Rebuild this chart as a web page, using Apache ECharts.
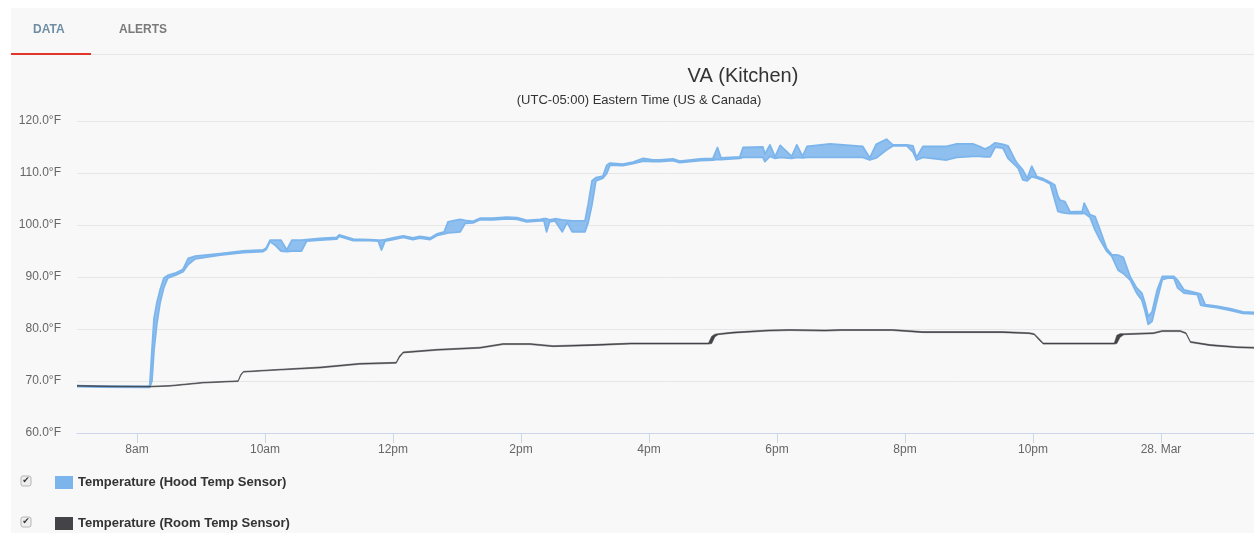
<!DOCTYPE html>
<html>
<head>
<meta charset="utf-8">
<script src="https://cdn.jsdelivr.net/npm/echarts@6/dist/echarts.min.js"></script>
<style>
html,body{margin:0;padding:0;background:#fff;}
#chart{width:1254px;height:533px;}
</style>
</head>
<body>
<div id="chart"></div>
<script>
// hours since midnight, 27 Mar (24 = 28. Mar 00:00)
const hoodTimes = [7.06,7.42,8.17,8.2,8.234,8.266,8.31,8.36,8.42,8.48,
  8.61,8.72,8.8,8.91,9.3,9.66,9.97,10.02,10.08,10.17,
  10.25,10.34,10.42,10.57,10.65,10.86,11.12,11.16,11.38,11.64,
  11.77,11.82,11.875,12.0,12.16,12.31,12.42,12.58,12.69,12.8,
  12.86,12.97,13.05,13.125,13.25,13.36,13.56,13.78,13.94,14.09,
  14.3,14.36,14.4,14.445,14.53,14.645,14.72,14.8,15.0,15.05,
  15.11,15.17,15.28,15.34,15.39,15.59,15.75,15.91,16.06,16.17,
  16.375,16.48,16.8,17.0,17.07,17.125,17.42,17.47,17.78,17.81,
  17.89,17.97,18.05,18.23,18.31,18.4,18.47,18.83,19.34,19.45,
  19.55,19.71,19.81,20.03,20.125,20.18,20.28,20.65,20.81,21.06,
  21.17,21.25,21.33,21.41,21.53,21.61,21.72,21.77,21.84,21.91,
  21.98,22.06,22.16,22.27,22.34,22.39,22.42,22.5,22.58,22.77,
  22.8,22.89,22.97,23.05,23.15,23.23,23.33,23.41,23.52,23.62,
  23.7,23.75,23.8,23.86,23.94,24.02,24.1,24.2,24.26,24.36,
  24.57,24.62,24.69,24.87,25.08,25.28,25.46];
const hoodLow = [68.9,68.85,68.8,68.8,70,76,81,85,88,89.8,
  90.4,91.0,92.4,93.5,94.2,94.7,94.9,95.3,96.8,96.0,
  95.0,94.9,95.0,95.0,96.9,97.1,97.3,97.8,97.0,97.0,
  96.9,95.2,96.9,97.2,97.6,97.2,97.5,97.2,98.0,98.3,
  98.5,98.6,98.7,100.3,100.4,101.0,101.0,101.2,101.1,100.6,
  100.8,100.8,98.7,100.6,100.8,98.7,100.5,98.7,98.7,100.5,
  104,108.5,109.0,109.9,111.5,111.4,111.8,112.3,112.2,112.2,
  112.4,112.0,112.4,112.5,112.6,112.6,112.8,113.0,113.0,112.2,
  113.2,112.8,113.0,112.8,113.0,112.9,113.0,113.0,113.0,112.5,
  112.9,114.4,115.2,115.2,114.0,112.5,113.0,112.5,113.0,113.2,
  113.2,113.1,113.1,115.0,114.8,112.8,111.5,110.9,108.7,108.5,
  109.3,109.0,108.6,107.9,104.8,102.6,102.5,102.3,102.2,102.2,
  102.3,101.5,99.0,97.1,95.0,94.0,91.3,90.7,89.4,86.9,
  85.6,83.5,80.9,81.5,85.6,89.5,89.8,89.8,87.9,86.9,
  86.6,84.6,84.4,84.1,83.6,83.0,82.9];
const hoodHigh = [69.1,69.0,68.95,69.2,76,82,85,87.5,89.8,90.3,
  90.8,91.5,93.6,94.0,94.5,95.0,95.2,95.6,97.1,97.1,
  97.1,95.2,97.1,97.1,97.2,97.4,97.6,98.1,97.3,97.2,
  97.1,97.1,97.2,97.5,97.9,97.5,97.8,97.5,98.3,98.7,
  100.6,100.9,101.1,100.9,100.7,101.3,101.3,101.5,101.4,100.9,
  101.1,101.2,101.2,101.0,101.2,101.0,100.9,100.8,100.8,104,
  108.5,109.1,109.4,111.5,111.9,111.7,112.1,112.8,112.5,112.5,
  112.7,112.3,112.7,112.8,114.9,112.9,113.1,114.9,115.0,113.6,
  115.4,113.1,115.3,113.2,115.4,113.2,115.1,115.6,115.1,112.9,
  115.5,116.5,115.4,115.4,115.2,113.0,115.1,115.1,115.6,115.6,
  115.1,114.6,115.1,115.8,115.5,115.2,112.5,111.6,110.6,109.0,
  111.3,109.3,108.9,108.2,107.7,105.5,104.8,104.5,102.5,102.6,
  104.2,102.0,101.6,99.0,95.5,94.3,94.2,93.8,90.0,87.9,
  86.9,85.0,82.4,83.3,87.5,90.1,90.1,90.1,89.4,87.5,
  86.9,86.7,84.7,84.4,83.9,83.3,83.2];

const roomTimes = [7.06,7.6,8.2,8.52,9.03,9.58,9.62,9.66,10.08,10.86,
  11.48,12.05,12.1,12.16,12.69,13.36,13.72,14.14,14.5,15.09,
  15.72,16.93,16.98,17.03,17.08,17.31,17.86,18.2,18.75,19.0,
  19.8,20.28,21.52,21.94,22.02,22.1,22.16,23.27,23.31,23.36,
  23.42,23.88,24.02,24.3,24.39,24.46,24.77,25.19,25.46];
const roomLow = [69.0,68.9,68.85,69.0,69.6,69.9,71.0,71.7,72.0,72.5,
  73.2,73.4,74.5,75.4,75.9,76.3,77.0,77.0,76.6,76.8,
  77.1,77.1,77.2,78.5,78.9,79.2,79.6,79.7,79.6,79.7,
  79.7,79.3,79.3,79.1,78.9,77.8,77.1,77.1,77.2,78.4,
  78.9,79.1,79.5,79.5,79.1,77.4,76.8,76.4,76.3];
const roomHigh = [69.15,69.05,69.0,69.15,69.75,70.05,71.25,71.85,72.15,72.7,
  73.4,73.6,74.8,75.6,76.1,76.5,77.2,77.2,76.8,77.0,
  77.3,77.3,78.6,79.0,79.1,79.4,79.8,79.9,79.8,79.9,
  79.9,79.5,79.5,79.3,79.1,78.1,77.3,77.3,78.8,79.1,
  79.1,79.3,79.7,79.7,79.3,77.6,77.0,76.6,76.5];

const xTickHours = [8,10,12,14,16,18,20,22,24];
const yTicks = [60,70,80,90,100,110,120];
const hoodName = 'Temperature (Hood Temp Sensor)';
const roomName = 'Temperature (Room Temp Sensor)';
const titleText = 'VA (Kitchen)';
const subtitleText = '(UTC-05:00) Eastern Time (US & Canada)';

function fmtHour(h){
  if (h === 24) return '28. Mar';
  if (h < 12) return h + 'am';
  if (h === 12) return '12pm';
  return (h - 12) + 'pm';
}
const rows = (t, lo, hi) => t.map((x, i) => [x, lo[i], hi[i]]);

const FONT = '"Liberation Sans", Arial, sans-serif';
const HOOD = '#7cb5ec', ROOM = '#434348';

// area-range drawn as one polygon through the axis scales
function rangeRenderer(times, lo, hi, color, fillOpacity, lineW){
  return function(params, api){
    if (params.dataIndex !== 0) return null;
    const pts = [];
    for (let i = 0; i < times.length; i++) pts.push(api.coord([times[i], lo[i]]));
    for (let i = times.length - 1; i >= 0; i--) pts.push(api.coord([times[i], hi[i]]));
    const cs = params.coordSys;
    return {
      type: 'group',
      clipPath: {type: 'rect', shape: {x: cs.x, y: cs.y, width: cs.width, height: cs.height}},
      children: [{
        type: 'polygon',
        shape: {points: pts},
        style: {fill: color, opacity: 1, fillOpacity: fillOpacity, stroke: color, lineWidth: lineW, lineJoin: 'round'}
      }]
    };
  };
}

const chart = echarts.init(document.getElementById('chart'), null, {renderer:'canvas'});
chart.setOption({
  animation: false,
  backgroundColor: '#ffffff',
  textStyle: {fontFamily: FONT},
  grid: {left: 77, right: 0, top: 121, bottom: 100, containLabel: false},
  xAxis: {
    type: 'value', min: 7.0625, max: 25.453,
    axisLine: {show: true, lineStyle: {color: '#ccd6eb', width: 1}},
    axisTick: {show: true, length: 10, lineStyle: {color: '#ccd6eb'}, customValues: xTickHours},
    axisLabel: {customValues: xTickHours, formatter: v => fmtHour(v), color: '#666', fontSize: 12, margin: 11, fontFamily: FONT},
    splitLine: {show: false}
  },
  yAxis: {
    type: 'value', min: yTicks[0], max: yTicks[yTicks.length-1], interval: 10,
    axisLine: {show: false}, axisTick: {show: false},
    axisLabel: {formatter: v => v.toFixed(1) + '°F', color: '#666', fontSize: 12, margin: 16, fontFamily: FONT},
    splitLine: {lineStyle: {color: '#e6e6e6', width: 1}}
  },
  legend: {
    data: [hoodName, roomName],
    orient: 'vertical', left: 55, top: 476, padding: 0,
    icon: 'rect', itemWidth: 18, itemHeight: 13, itemGap: 28,
    textStyle: {fontFamily: FONT, fontSize: 13, fontWeight: 'bold', color: '#333'},
    selectedMode: false
  },
  graphic: [
    {type:'rect', shape:{x:11, y:8, width:1243, height:525}, style:{fill:'#f8f8f8'}, z:-10, silent:true},
    {type:'text', x:33, y:29.5, style:{text:'DATA', font:'bold 12px ' + FONT, fill:'#6f8ea3', textVerticalAlign:'middle'}},
    {type:'text', x:119, y:29.5, style:{text:'ALERTS', font:'bold 12px ' + FONT, fill:'#7a7a7a', textVerticalAlign:'middle'}},
    {type:'rect', shape:{x:91, y:54, width:1163, height:1}, style:{fill:'#e6e6e6'}},
    {type:'rect', shape:{x:11, y:53, width:80, height:2}, style:{fill:'#e0352b'}},
    {type:'text', x:743, y:76, style:{text:titleText, font:'20px ' + FONT, fill:'#333', textAlign:'center', textVerticalAlign:'middle'}},
    {type:'text', x:639, y:100, style:{text:subtitleText, font:'13px ' + FONT, fill:'#333', textAlign:'center', textVerticalAlign:'middle'}},
    {type:'rect', shape:{x:21, y:476, width:10, height:10, r:2}, style:{fill:'#eeeeee', stroke:'#b5b5b5', lineWidth:1}},
    {type:'text', x:26, y:481, style:{text:'✔', font:'9px "DejaVu Sans"', fill:'#333', textAlign:'center', textVerticalAlign:'middle'}},
    {type:'rect', shape:{x:21, y:517, width:10, height:10, r:2}, style:{fill:'#eeeeee', stroke:'#b5b5b5', lineWidth:1}},
    {type:'text', x:26, y:522, style:{text:'✔', font:'9px "DejaVu Sans"', fill:'#333', textAlign:'center', textVerticalAlign:'middle'}}
  ],
  series: [
    {name: hoodName, type: 'custom', coordinateSystem: 'cartesian2d',
     data: rows(hoodTimes, hoodLow, hoodHigh), encode: {x: 0, y: [1, 2]},
     itemStyle: {color: HOOD},
     renderItem: rangeRenderer(hoodTimes, hoodLow, hoodHigh, HOOD, 0.85, 1.8), z: 3},
    {name: roomName, type: 'custom', coordinateSystem: 'cartesian2d',
     data: rows(roomTimes, roomLow, roomHigh), encode: {x: 0, y: [1, 2]},
     itemStyle: {color: ROOM},
     renderItem: rangeRenderer(roomTimes, roomLow, roomHigh, ROOM, 1, 0.6), z: 4}
  ]
});
</script>
</body>
</html>
